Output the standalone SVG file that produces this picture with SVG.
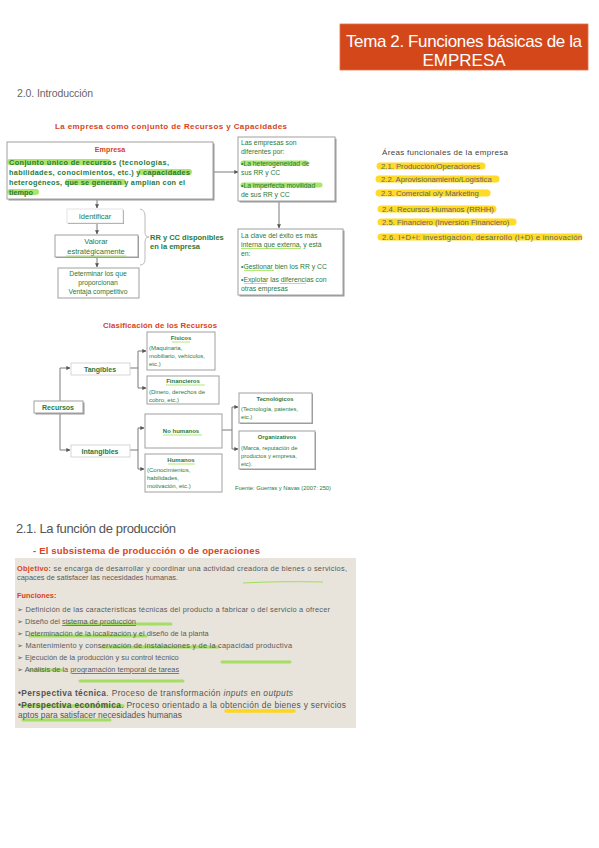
<svg xmlns="http://www.w3.org/2000/svg" width="599" height="848" viewBox="0 0 599 848">
<style>
text{font-family:"Liberation Sans",Arial,sans-serif}
.g{fill:#2a7a3b}
.gb{fill:#2a7a3b;font-weight:bold}
.box{fill:#fff;stroke:#a0a0a0;stroke-width:1}
.sh{fill:#9a9a9a}
.ln{fill:none;stroke:#7a7a7a;stroke-width:1}
.hg{stroke:#8fdc3c;stroke-opacity:.75;stroke-linecap:round;fill:none}
.hy{stroke:#ffd400;stroke-opacity:.85;stroke-linecap:round;fill:none}
.red{fill:#d9431c;font-weight:bold}
.pt{fill:#5a5a5a;font-size:7.4px}
</style>
<defs>
<marker id="ar" viewBox="0 0 6 6" refX="5.5" refY="3" markerWidth="4" markerHeight="4" orient="auto"><path d="M0,0 L6,3 L0,6 z" fill="#555"/></marker>
</defs>
<rect width="599" height="848" fill="#fff"/>

<g id="title">
<rect x="340" y="24" width="248" height="46" fill="#d4471a" stroke="#e0714a" stroke-width="0.8"/>
<text x="464" y="47" font-size="17" fill="#fff" text-anchor="middle" textLength="236">Tema 2. Funciones básicas de la</text>
<text x="464" y="66" font-size="17" fill="#fff" text-anchor="middle">EMPRESA</text>
</g>

<text id="h20" x="17" y="97" font-size="10.5" fill="#666" textLength="76">2.0. Introducción</text>

<text x="171" y="129" font-size="8" class="red" text-anchor="middle" textLength="232">La empresa como conjunto de Recursos y Capacidades</text>

<g id="connectors">
<path class="ln" d="M213,172 H238" marker-end="url(#ar)"/>
<path class="ln" d="M279,201 V228" marker-end="url(#ar)"/>
<path class="ln" d="M97,199 V208" marker-end="url(#ar)"/>
<path class="ln" d="M97,223 V234" marker-end="url(#ar)"/>
<path class="ln" d="M97,257 V267" marker-end="url(#ar)"/>
<path d="M140,209 Q145,210 145,216 V232 Q145,237 149,237 Q145,237 145,242 V259 Q145,265 140,265" fill="none" stroke="#aaa" stroke-width="0.8"/>
<path class="ln" d="M60,401 V450"/>
<path class="ln" d="M60,401 V368 H70" marker-end="url(#ar)"/>
<path class="ln" d="M60,450 H70" marker-end="url(#ar)"/>
<path class="ln" d="M130,368 H138"/>
<path class="ln" d="M138,351 V388"/>
<path class="ln" d="M138,351 H146" marker-end="url(#ar)"/>
<path class="ln" d="M138,388 H146" marker-end="url(#ar)"/>
<path class="ln" d="M130,450 H138"/>
<path class="ln" d="M138,428 V469"/>
<path class="ln" d="M138,428 H144" marker-end="url(#ar)"/>
<path class="ln" d="M138,469 H144" marker-end="url(#ar)"/>
<path class="ln" d="M222,430 H232"/>
<path class="ln" d="M232,407 V449"/>
<path class="ln" d="M232,407 H238" marker-end="url(#ar)"/>
<path class="ln" d="M232,449 H238" marker-end="url(#ar)"/>
</g>

<g id="empresa">
<rect class="sh" x="8.5" y="143.5" width="206" height="57"/>
<rect class="box" x="7" y="142" width="206" height="57"/>
<path class="hg" stroke-width="6" d="M10,162 H108"/>
<path class="hg" stroke-width="6" d="M141,172 H189"/>
<path class="hg" stroke-width="6" d="M68,182 H123"/>
<path class="hg" stroke-width="6" d="M10,192 H36"/>
<text x="110" y="152" font-size="7.2" class="red" text-anchor="middle">Empresa</text>
<text x="9" y="165" font-size="7.3" class="gb" textLength="160">Conjunto único de recursos (tecnologías,</text>
<text x="9" y="175" font-size="7.3" class="gb" textLength="181">habilidades, conocimientos, etc.) y capacidades</text>
<text x="9" y="185" font-size="7.3" class="gb" textLength="176">heterogéneos, que se generan y amplían con el</text>
<text x="9" y="195" font-size="7.3" class="gb">tiempo</text>
</g>

<g id="identificar">
<rect class="sh" x="68" y="210" width="56" height="14"/>
<rect x="67" y="209" width="56" height="14" fill="#fff" stroke="#ddd" stroke-width="0.8"/>
<text x="95" y="219" font-size="7.5" class="g" text-anchor="middle">Identificar</text>
</g>

<g id="valorar">
<rect class="sh" x="56" y="236" width="83" height="22"/>
<rect class="box" x="55" y="235" width="83" height="22"/>
<text x="96" y="244" font-size="7.5" class="g" text-anchor="middle">Valorar</text>
<text x="96" y="254" font-size="7.5" class="g" text-anchor="middle">estratégicamente</text>
<path d="M66,256 H126" stroke="#8fdc3c" stroke-width="0.8"/>
</g>

<g id="determinar">
<rect class="box" x="58" y="268" width="81" height="30"/>
<text x="98" y="276" font-size="6.8" class="g" text-anchor="middle">Determinar los que</text>
<text x="98" y="285" font-size="6.8" class="g" text-anchor="middle">proporcionan</text>
<text x="98" y="294" font-size="6.8" class="g" text-anchor="middle">Ventaja competitivo</text>
</g>

<g id="rrcc">
<text x="150" y="240" font-size="7.5" class="gb">RR y CC disponibles</text>
<text x="150" y="249" font-size="7.5" class="gb">en la empresa</text>
</g>

<g id="diferentes">
<rect class="sh" x="239.5" y="138.5" width="97" height="64"/>
<rect class="box" x="238" y="137" width="97" height="64"/>
<path class="hg" stroke-width="5" d="M243,163 H306"/>
<path class="hg" stroke-width="5" d="M243,185 H320"/>
<text x="241" y="145" font-size="6.8" class="g">Las empresas son</text>
<text x="241" y="154" font-size="6.8" class="g">diferentes por:</text>
<text x="241" y="166" font-size="6.8" class="g">•La heterogeneidad de</text>
<text x="241" y="175" font-size="6.8" class="g">sus RR y CC</text>
<text x="241" y="188" font-size="6.8" class="g">•La imperfecta movilidad</text>
<text x="241" y="197" font-size="6.8" class="g">de sus RR y CC</text>
</g>

<g id="clave">
<rect class="sh" x="239.5" y="230.5" width="105" height="66"/>
<rect class="box" x="238" y="229" width="105" height="66"/>
<text x="241" y="238" font-size="6.8" class="g">La clave del éxito es más</text>
<text x="241" y="247" font-size="6.8" class="g">interna que externa, y está</text>
<path d="M241,248.5 H301" stroke="#8fdc3c" stroke-width="0.7"/>
<text x="241" y="256" font-size="6.8" class="g">en:</text>
<text x="241" y="269" font-size="6.8" class="g">•Gestionar bien los RR y CC</text>
<path d="M244,270.5 H274" stroke="#8fdc3c" stroke-width="0.7"/>
<text x="241" y="282" font-size="6.8" class="g">•Explotar las diferencias con</text>
<path d="M244,283.5 H267 M280,283.5 H306" stroke="#8fdc3c" stroke-width="0.7"/>
<text x="241" y="291" font-size="6.8" class="g">otras empresas</text>
</g>

<g id="areas">
<text x="382" y="155" font-size="8" fill="#444" textLength="126">Áreas funcionales de la empresa</text>
<path class="hy" stroke-width="7" d="M380,166 H482"/>
<path class="hy" stroke-width="7" d="M379,179 H496"/>
<path class="hy" stroke-width="7" d="M379,193 H487"/>
<path class="hy" stroke-width="7" d="M381,209 H493"/>
<path class="hy" stroke-width="7" d="M381,222 H513"/>
<path class="hy" stroke-width="7" d="M381,237 H579"/>
<g fill="#666" font-size="7.7">
<text x="381" y="168.5">2.1. Producción/Operaciones</text>
<text x="381" y="182">2.2. Aprovisionamiento/Logística</text>
<text x="381" y="195.5">2.3. Comercial o/y  Marketing</text>
<text x="382" y="211.5">2.4. Recursos Humanos (RRHH)</text>
<text x="382" y="224.5">2.5. Financiero (Inversión  Financiero)</text>
<text x="382" y="239.5" textLength="200">2.6. I+D+i: investigación,  desarrollo (I+D) e innovación</text>
</g>
</g>

<text x="160" y="328" font-size="7.8" class="red" text-anchor="middle" textLength="114">Clasificación de los Recursos</text>

<g id="recursos">
<rect class="sh" x="35.5" y="402.5" width="49" height="12"/>
<rect class="box" x="34" y="401" width="49" height="12"/>
<text x="58" y="410" font-size="7" class="gb" text-anchor="middle">Recursos</text>
</g>
<g id="tangibles">
<rect x="71" y="363" width="59" height="12" fill="#fff" stroke="#ccc" stroke-width="0.8"/>
<text x="100" y="372" font-size="7" class="gb" text-anchor="middle">Tangibles</text>
</g>
<g id="intangibles">
<rect x="71" y="445" width="59" height="12" fill="#fff" stroke="#ccc" stroke-width="0.8"/>
<text x="100" y="454" font-size="7" class="gb" text-anchor="middle">Intangibles</text>
</g>
<g id="fisicos">
<rect class="box" x="147" y="332" width="68" height="38"/>
<text x="181" y="340" font-size="6" class="gb" text-anchor="middle">Físicos</text>
<path d="M172,342 H190" stroke="#8fdc3c" stroke-width="0.7"/>
<text x="149" y="350" font-size="6" class="g">(Maquinaria,</text>
<text x="149" y="358" font-size="6" class="g">mobiliario, vehículos,</text>
<text x="149" y="366" font-size="6" class="g">etc.)</text>
</g>
<g id="financieros">
<rect class="box" x="147" y="376" width="72" height="28"/>
<text x="183" y="383" font-size="6" class="gb" text-anchor="middle">Financieros</text>
<path d="M166,385 H205" stroke="#8fdc3c" stroke-width="0.7"/>
<text x="149" y="394" font-size="6" class="g">(Dinero, derechos de</text>
<text x="149" y="402" font-size="6" class="g">cobro, etc.)</text>
</g>
<g id="nohumanos">
<rect class="box" x="145" y="414" width="77" height="34"/>
<text x="181" y="433" font-size="6" class="gb" text-anchor="middle">No humanos</text>
<path d="M163,435 H202" stroke="#8fdc3c" stroke-width="0.7"/>
</g>
<g id="humanos">
<rect class="box" x="145" y="454" width="77" height="38"/>
<text x="181" y="462" font-size="6" class="gb" text-anchor="middle">Humanos</text>
<path d="M168,464 H195" stroke="#8fdc3c" stroke-width="0.7"/>
<text x="147" y="472" font-size="6" class="g">(Conocimientos,</text>
<text x="147" y="480" font-size="6" class="g">habilidades,</text>
<text x="147" y="488" font-size="6" class="g">motivación, etc.)</text>
</g>
<g id="tecnologicos">
<rect class="sh" x="240" y="394" width="73" height="30"/>
<rect class="box" x="239" y="393" width="73" height="30"/>
<text x="275" y="401" font-size="5.8" class="gb" text-anchor="middle">Tecnológicos</text>
<text x="241" y="411" font-size="5.8" class="g">(Tecnología, patentes,</text>
<text x="241" y="419" font-size="5.8" class="g">etc.)</text>
</g>
<g id="organizativos">
<rect class="sh" x="240" y="432" width="76" height="38"/>
<rect class="box" x="239" y="431" width="76" height="38"/>
<text x="277" y="439" font-size="5.8" class="gb" text-anchor="middle">Organizativos</text>
<text x="241" y="450" font-size="5.8" class="g">(Marca, reputación de</text>
<text x="241" y="458" font-size="5.8" class="g">productos y empresa,</text>
<text x="241" y="466" font-size="5.8" class="g">etc).</text>
</g>
<text x="235" y="490" font-size="5.8" class="g">Fuente: Guerras y Navas (2007: 250)</text>

<text id="h21" x="16" y="533" font-size="13" fill="#555" textLength="160">2.1. La función de producción</text>
<text x="33" y="554" font-size="9.5" class="red" textLength="227">- El subsistema de producción o de operaciones</text>

<g id="produccion">
<rect x="15" y="558" width="341" height="170" fill="#e8e4db"/>
<path d="M243,583 Q280,581 323,582" stroke="#8fdc3c" stroke-width="0.8" fill="none"/>
<text x="17" y="571" class="pt" textLength="330"><tspan fill="#d9431c" font-weight="bold">Objetivo:</tspan> se encarga de desarrollar y coordinar una actividad creadora de bienes o servicios,</text>
<text x="17" y="580" class="pt">capaces de satisfacer las necesidades humanas.</text>
<text x="17" y="598" class="pt" style="fill:#d9431c;font-weight:bold">Funciones:</text>
<path class="hg" stroke-width="3" d="M67,624 H171"/>
<path class="hg" stroke-width="3" d="M30,636 H146"/>
<path class="hg" stroke-width="3" d="M102,647 H218"/>
<path class="hg" stroke-width="3" d="M222,662 H290"/>
<path class="hg" stroke-width="3" d="M30,670 H62"/>
<path class="hg" stroke-width="3" d="M80,681 H183"/>
<path class="hg" stroke-width="3.5" d="M22,706 H123"/>
<path class="hg" stroke-width="3" d="M23,720 H110"/>
<path class="hy" stroke-width="3.5" d="M226,711 H294"/>
<text x="17" y="612" class="pt" textLength="313">➢ Definición de las características técnicas del producto a fabricar o del servicio a ofrecer</text>
<text x="17" y="624" class="pt">➢ Diseño del <tspan text-decoration="underline">sistema de producción</tspan></text>
<text x="17" y="636" class="pt">➢ Determinación de la localización y el diseño de la planta</text>
<text x="17" y="648" class="pt" textLength="275">➢ Mantenimiento y conservación de instalaciones y de la capacidad productiva</text>
<text x="17" y="660" class="pt">➢ Ejecución de la producción y su control técnico</text>
<text x="17" y="672" class="pt">➢ Análisis de la <tspan text-decoration="underline">programación temporal de tareas</tspan></text>
<text x="18" y="696" font-size="8.4" fill="#555" textLength="275"><tspan font-weight="bold">•Perspectiva técnica</tspan>. Proceso de transformación <tspan font-style="italic">inputs</tspan> en <tspan font-style="italic">outputs</tspan></text>
<text x="18" y="708" font-size="8.4" fill="#555" textLength="328"><tspan font-weight="bold">•Perspectiva económica</tspan>. Proceso orientado a la obtención de bienes y servicios</text>
<text x="18" y="718" font-size="8.4" fill="#555">aptos para satisfacer necesidades humanas</text>
</g>
</svg>
